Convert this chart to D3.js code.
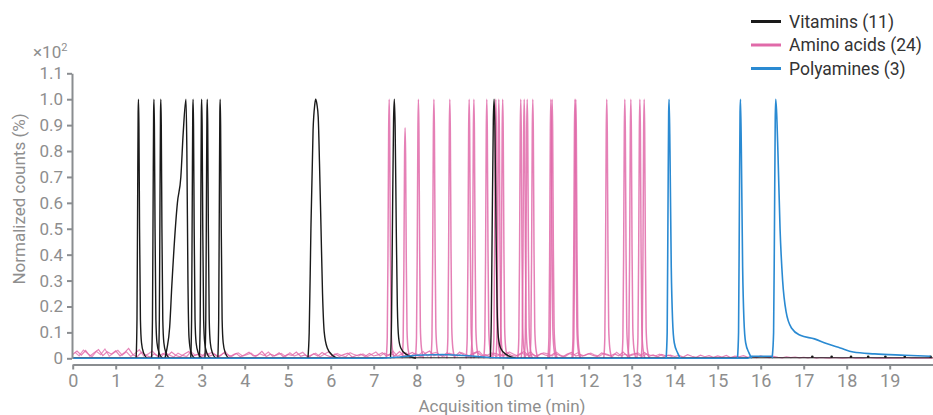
<!DOCTYPE html>
<html>
<head>
<meta charset="utf-8">
<script src="https://cdn.jsdelivr.net/npm/d3@7"></script>
<style>
  body { margin: 0; background: #fff; font-family: Roboto, "Noto Sans", sans-serif; }
</style>
</head>
<body>
<div id="chart"></div>
<script>
// retention times (min) and relative heights (%)
const vitaminTimes   = [1.53, 1.89, 2.05, 2.635, 2.80, 3.00, 3.13, 3.43, 5.65, 7.48, 9.80];
const vitaminHeights = [100, 100, 100, 100, 100, 100, 100, 100, 100, 100, 100];
const vitaminShapes  = ["sharp", "sharp", "sharp", "front", "sharp", "sharp", "sharp", "sharp", "broad", "mid", "mid"];
const vitaminSpikes  = [17.2, 17.65, 18.1, 18.5, 18.9, 19.35, 19.95];

const aminoTimes   = [7.36, 7.73, 8.04, 8.40, 8.77, 9.22, 9.33, 9.63, 9.84, 9.91, 10.00, 10.42,
                      10.50, 10.57, 10.70, 11.12, 11.15, 11.68, 11.70, 12.42, 12.84, 12.98, 13.19, 13.29];
const aminoHeights = [100, 89, 100, 100, 100, 100, 100, 100, 100, 100, 100, 100,
                      100, 100, 100, 100, 100, 100, 100, 100, 100, 100, 100, 100];

const polyTimes   = [13.87, 15.53, 16.35];
const polyHeights = [100, 100, 100];
const polyShapes  = ["blue", "blue", "blueTail"];
// low blue hump and the plateau between the 2nd and 3rd polyamine
const polyBaseline = [[0, 0], [7.2, 0], [7.6, 0.5], [8.0, 1.2], [8.6, 1.5], [9.2, 1.0], [9.7, 0.3], [10.2, 0],
                      [15.7, 0], [15.79, 0.8], [16.26, 0.8], [16.28, 0]];

// pink baseline noise, one value every 0.1 min from 0 to 20
const aminoNoise = [
  1.5, 2.8, 1.2, 3.0, 0.8, 2.2, 3.4, 1.0, 2.5, 1.6, 2.9,
  0.9, 2.1, 3.8, 1.4, 0.6, 2.3, 1.2, 0.5, 1.8, 0.7,
  1.9, 0.8, 2.4, 1.1, 0.6, 1.7, 2.6, 0.9, 1.5, 0.7,
  2.2, 1.0, 1.6, 0.5, 2.0, 1.3, 0.8, 1.9, 0.6, 1.4,
  2.3, 0.9, 1.2, 2.7, 0.7, 1.6, 1.0, 2.1, 0.6, 1.5,
  1.1, 2.4, 0.8, 1.3, 0.5, 1.8, 0.9, 2.2, 1.2, 0.6,
  1.7, 0.8, 1.4, 2.0, 0.5, 1.1, 1.6, 0.7, 1.9, 0.9,
  1.3, 2.2, 0.8, 1.8, 1.0, 2.6, 0.9, 1.5, 2.3, 1.1,
  0.7, 1.9, 2.8, 1.0, 1.6, 0.8, 2.1, 1.3, 0.9, 2.4,
  1.2, 0.7, 1.8, 2.5, 1.0, 1.4, 0.6, 2.0, 1.5, 0.9,
  2.2, 1.1, 0.8, 1.7, 2.6, 1.0, 1.5, 0.7, 1.9, 1.2,
  0.8, 2.0, 1.3, 0.6, 1.6, 2.3, 0.9, 1.4, 1.0, 1.8,
  1.1, 0.7, 2.1, 1.4, 0.9, 1.7, 1.0, 2.4, 0.8, 1.5,
  1.9, 1.0, 2.2, 0.8, 1.3, 0.6, 1.5, 0.9, 1.2, 0.7,
  1.1, 0.5, 1.4, 0.8, 0.4, 1.2, 0.6, 1.0, 0.4, 0.9,
  0.5, 1.1, 0.3, 0.8, 0.6, 1.0, 0.4, 0.7, 0.3, 0.9,
  0.5, 0.3, 0.7, 0.4, 0.2, 0.6, 0.3, 0.5, 0.2, 0.4,
  0.2, 0.4, 0.1, 0.3, 0.2, 0.1, 0.3, 0.2, 0.1, 0.2,
  0.3, 0.1, 0.2, 0.1, 0.3, 0.2, 0.1, 0.2, 0.1, 0.2,
  0.1, 0.2, 0.1, 0.3, 0.1, 0.2, 0.1, 0.1, 0.2, 0.1
];
// a second pink trace's noise, every 0.1 min from 0.05 to 13.95
const aminoNoiseB = [
  2.4, 0.9, 3.2, 1.8, 0.6, 2.7, 1.4, 3.6, 0.8, 2.0,
  3.1, 1.2, 2.5, 0.7, 1.9, 3.3, 0.9, 1.6, 2.8, 1.0,
  0.6, 2.2, 1.3, 0.5, 2.0, 1.1, 0.7, 2.5, 1.2, 1.8,
  0.9, 1.7, 2.3, 0.8, 1.2, 2.6, 0.6, 1.5, 2.1, 0.9,
  1.4, 2.0, 0.6, 1.8, 1.1, 2.4, 0.8, 1.3, 1.9, 0.7,
  2.1, 0.9, 1.5, 2.3, 0.7, 1.2, 2.0, 0.6, 1.6, 2.5,
  0.8, 1.9, 1.1, 0.6, 2.2, 1.4, 0.9, 1.7, 0.7, 1.5,
  2.4, 0.9, 2.0, 1.2, 2.8, 0.8, 1.6, 2.2, 0.7, 1.9,
  1.3, 2.6, 0.9, 1.8, 2.3, 1.1, 0.8, 2.0, 1.5, 0.9,
  2.2, 1.4, 0.8, 1.9, 2.7, 0.9, 1.3, 2.1, 0.7, 1.6,
  1.0, 2.4, 1.6, 0.9, 2.0, 1.2, 2.5, 0.8, 1.4, 2.1,
  1.7, 0.9, 2.3, 1.1, 0.7, 1.8, 1.3, 2.2, 0.8, 1.5,
  2.0, 1.2, 0.8, 1.9, 1.4, 0.7, 2.3, 1.0, 1.6, 0.9,
  1.4, 2.1, 0.8, 1.7, 1.1, 0.9, 1.6, 0.7, 1.2, 0.6
];
const noiseStep = 0.1;

// peak outlines: [offset from apex (min), fraction of apex height]
const profiles = {
  sharp: [[-0.055, 0], [-0.035, 0.15], [-0.02, 0.6], [-0.008, 0.95], [0, 1], [0.01, 0.9], [0.025, 0.5],
          [0.045, 0.15], [0.07, 0.06], [0.12, 0.02], [0.2, 0]],
  front: [[-0.49, 0], [-0.44, 0.04], [-0.38, 0.12], [-0.33, 0.28], [-0.2, 0.6], [-0.12, 0.7], [-0.065, 0.87],
          [0, 1], [0.02, 0.8], [0.045, 0.3], [0.07, 0.08], [0.12, 0.02], [0.2, 0]],
  broad: [[-0.18, 0], [-0.15, 0.1], [-0.11, 0.5], [-0.06, 0.88], [-0.02, 0.98], [0, 1], [0.03, 0.98],
          [0.06, 0.93], [0.09, 0.75], [0.125, 0.5], [0.16, 0.25], [0.2, 0.1], [0.27, 0.04], [0.4, 0.01], [0.52, 0]],
  mid:   [[-0.09, 0], [-0.065, 0.15], [-0.045, 0.5], [-0.018, 0.92], [0, 1], [0.018, 0.9], [0.045, 0.5],
          [0.07, 0.2], [0.1, 0.08], [0.15, 0.04], [0.28, 0.015], [0.5, 0]],
  pink:  [[-0.07, 0], [-0.045, 0.08], [-0.028, 0.4], [-0.012, 0.88], [0, 1], [0.012, 0.88], [0.028, 0.42],
          [0.045, 0.12], [0.07, 0.04], [0.12, 0]],
  blue:  [[-0.07, 0], [-0.045, 0.1], [-0.025, 0.6], [-0.01, 0.95], [0, 1], [0.02, 0.8], [0.05, 0.35],
          [0.08, 0.15], [0.12, 0.06], [0.2, 0.02], [0.26, 0]],
  blueTail: [[-0.08, 0.008], [-0.05, 0.1], [-0.03, 0.5], [-0.012, 0.92], [0, 1], [0.02, 0.95], [0.05, 0.8],
          [0.1, 0.5], [0.16, 0.3], [0.24, 0.18], [0.37, 0.116], [0.57, 0.089], [0.9, 0.075], [1.18, 0.057],
          [1.5, 0.04], [1.8, 0.024], [2.3, 0.017], [3.0, 0.012], [3.6, 0.008]]
};

const xTicks = [0, 1, 2, 3, 4, 5, 6, 7, 8, 9, 10, 11, 12, 13, 14, 15, 16, 17, 18, 19];
const yTicks = [0, 10, 20, 30, 40, 50, 60, 70, 80, 90, 100, 110];
const yTickLabels = ["0", "0.1", "0.2", "0.3", "0.4", "0.5", "0.6", "0.7", "0.8", "0.9", "1.0", "1.1"];

const legendNames  = ["Vitamins (11)", "Amino acids (24)", "Polyamines (3)"];
const legendColors = ["#1a1a1a", "#e06aa9", "#2a8ad2"];

const width = 933, height = 415;
const svg = d3.select("#chart").append("svg")
  .attr("width", width).attr("height", height);

const x = d3.scaleLinear().domain([0, 20]).range([72.7, 932.7]);
const y = d3.scaleLinear().domain([0, 110]).range([358.3, 73.3]);

const line = d3.line().x(d => x(d[0])).y(d => y(d[1])).curve(d3.curveMonotoneX);
const rawLine = d3.line().x(d => x(d[0])).y(d => y(d[1]));

function peakPoints(t, h, shape) {
  return profiles[shape].map(([dx, f]) => [t + dx, f * h]);
}

const plot = svg.append("g");

// amino acids: noise then peaks
plot.append("path")
  .attr("d", rawLine(aminoNoise.map((v, i) => [i * noiseStep, v])))
  .attr("fill", "none").attr("stroke", legendColors[1]).attr("stroke-width", 1.2).attr("opacity", 0.85);
plot.append("path")
  .attr("d", rawLine(aminoNoiseB.map((v, i) => [0.05 + i * noiseStep, v])))
  .attr("fill", "none").attr("stroke", legendColors[1]).attr("stroke-width", 1.2).attr("opacity", 0.75);

plot.selectAll(".amino").data(aminoTimes).enter().append("path")
  .attr("class", "amino")
  .attr("d", (t, i) => line(peakPoints(t, aminoHeights[i], "pink")))
  .attr("fill", "none").attr("stroke", legendColors[1]).attr("stroke-width", 1.5).attr("opacity", 0.85);

// vitamins
plot.append("path")
  .attr("d", rawLine([[0, 0.2], [20, 0.2]]))
  .attr("fill", "none").attr("stroke", legendColors[0]).attr("stroke-width", 1);

plot.selectAll(".vit").data(vitaminTimes).enter().append("path")
  .attr("class", "vit")
  .attr("d", (t, i) => line(peakPoints(t, vitaminHeights[i], vitaminShapes[i])))
  .attr("fill", "none").attr("stroke", legendColors[0]).attr("stroke-width", 1.4);

plot.selectAll(".spike").data(vitaminSpikes).enter().append("circle")
  .attr("class", "spike")
  .attr("cx", d => x(d)).attr("cy", y(0.6)).attr("r", 1.3)
  .attr("fill", legendColors[0]);

// polyamines
plot.append("path")
  .attr("d", rawLine(polyBaseline))
  .attr("fill", "none").attr("stroke", legendColors[2]).attr("stroke-width", 1.5);

plot.selectAll(".poly").data(polyTimes).enter().append("path")
  .attr("class", "poly")
  .attr("d", (t, i) => line(peakPoints(t, polyHeights[i], polyShapes[i])))
  .attr("fill", "none").attr("stroke", legendColors[2]).attr("stroke-width", 1.6);

// axes
const axisColor = "#8a8d90";
const labelColor = "#8e8e8e";

const yAxis = svg.append("g")
  .attr("transform", "translate(72,0)")
  .call(d3.axisLeft(y).tickValues(yTicks).tickFormat((d, i) => yTickLabels[i]).tickSize(5).tickSizeOuter(0).tickPadding(4));

const xAxis = svg.append("g")
  .attr("transform", "translate(0,364.5)")
  .call(d3.axisBottom(x).tickValues(xTicks).tickFormat(d => d).tickSize(5).tickSizeOuter(0).tickPadding(5));

[yAxis, xAxis].forEach(g => {
  g.select(".domain").attr("stroke", axisColor).attr("stroke-width", 2);
  g.selectAll(".tick line").attr("stroke", axisColor).attr("stroke-width", 2);
  g.selectAll(".tick text").attr("fill", labelColor).attr("font-family", "Roboto, sans-serif");
});
yAxis.selectAll(".tick text").attr("font-size", 17);
xAxis.selectAll(".tick text").attr("font-size", 18);

svg.append("text")
  .attr("x", 502).attr("y", 412)
  .attr("text-anchor", "middle")
  .attr("fill", labelColor).attr("font-size", 17)
  .text("Acquisition time (min)");

svg.append("text")
  .attr("transform", "translate(25,199) rotate(-90)")
  .attr("text-anchor", "middle")
  .attr("fill", labelColor).attr("font-size", 17)
  .text("Normalized counts (%)");

const mult = svg.append("text")
  .attr("x", 33).attr("y", 58)
  .attr("fill", labelColor).attr("font-size", 17);
mult.append("tspan").text("×10");
mult.append("tspan").attr("font-size", 11).attr("dy", -7).text("2");

// legend
const legend = svg.append("g");
legendNames.forEach((name, i) => {
  const ly = 21.5 + i * 23.5;
  legend.append("line")
    .attr("x1", 751).attr("x2", 781).attr("y1", ly).attr("y2", ly)
    .attr("stroke", legendColors[i]).attr("stroke-width", 3);
  legend.append("text")
    .attr("x", 789).attr("y", ly).attr("dy", "0.35em")
    .attr("fill", "#333").attr("font-size", 17.5)
    .text(name);
});
</script>
</body>
</html>
